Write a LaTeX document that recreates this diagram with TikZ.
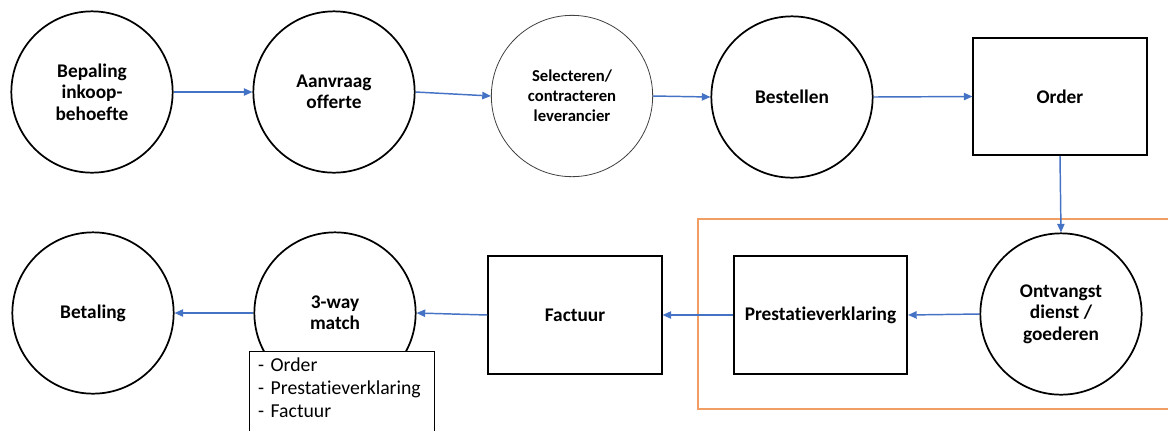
\documentclass[tikz,border=0pt]{standalone}
\usepackage{fontspec}
\setmainfont[Ligatures=NoCommon]{Carlito}
\usetikzlibrary{arrows.meta}
\definecolor{flowblue}{RGB}{68,114,196}
\definecolor{zoneorange}{RGB}{237,125,49}
\tikzset{
  stap/.style={circle, draw, line width=1.3pt, minimum size=121pt, inner sep=0pt,
    align=center, font=\bfseries\fontsize{14.5}{16}\selectfont},
  blok/.style={rectangle, draw, line width=1.3pt, minimum width=130pt, minimum height=88pt,
    align=center, font=\bfseries\fontsize{14.5}{16}\selectfont},
  pijl/.style={->, flowblue, line width=1.1pt}
}
\begin{document}
\begin{tikzpicture}[x=0.75pt, y=-0.75pt, >={Triangle[length=6.5pt,width=5.5pt]}]
  \clip (0,0) rectangle (1168,430);
  \useasboundingbox (0,0) rectangle (1168,430);

  % zone around receipt and statement
  \draw[zoneorange!75, line width=0.8pt] (1170,219) -- (698,219) -- (698,409) -- (1170,409);

  % top row
  \node[stap] (behoefte) at (92,92) {Bepaling\\inkoop-\\behoefte};
  \node[stap] (offerte) at (334,92) {Aanvraag\\offerte};
  \node[stap, line width=0.6pt, draw=black!75, font=\bfseries\fontsize{12.5}{15}\selectfont]
    (selectie) at (572,96) {Selecteren/\\contracteren\\leverancier};
  \node[stap] (bestellen) at (792,97) {Bestellen};
  \node[blok] (order) at (1060,96.5) {Order};

  % bottom row
  \node[stap] (ontvangst) at (1061,314) {Ontvangst\\dienst /\\goederen};
  \node[blok] (prestatie) at (820.5,315) {Prestatieverklaring};
  \node[blok] (factuur) at (575,315) {Factuur};
  \node[stap] (match) at (335,313) {3-way\\match};
  \node[stap] (betaling) at (93,313) {Betaling};

  % documents of the match
  \node[draw, line width=0.6pt, fill=white, anchor=north west, text width=126pt,
    align=left, font=\fontsize{14.8}{17.2}\selectfont,
    inner xsep=6.5pt, inner ysep=5pt] (stukken) at (249,351)
    {- Order\\- Prestatieverklaring\\- Factuur\rule[-25pt]{0pt}{0pt}};

  % flow
  \draw[pijl] (behoefte.east) -- (offerte.west);
  \draw[pijl] (offerte.east) -- (selectie.west);
  \draw[pijl] (selectie.east) -- (bestellen.west);
  \draw[pijl] (bestellen.east) -- (order.west);
  \draw[pijl] (order.south) -- (ontvangst.north);
  \draw[pijl] (ontvangst.west) -- (prestatie.east);
  \draw[pijl] (prestatie.west) -- (factuur.east);
  \draw[pijl] (factuur.west) -- (match.east);
  \draw[pijl] (match.west) -- (betaling.east);
\end{tikzpicture}
\end{document}
